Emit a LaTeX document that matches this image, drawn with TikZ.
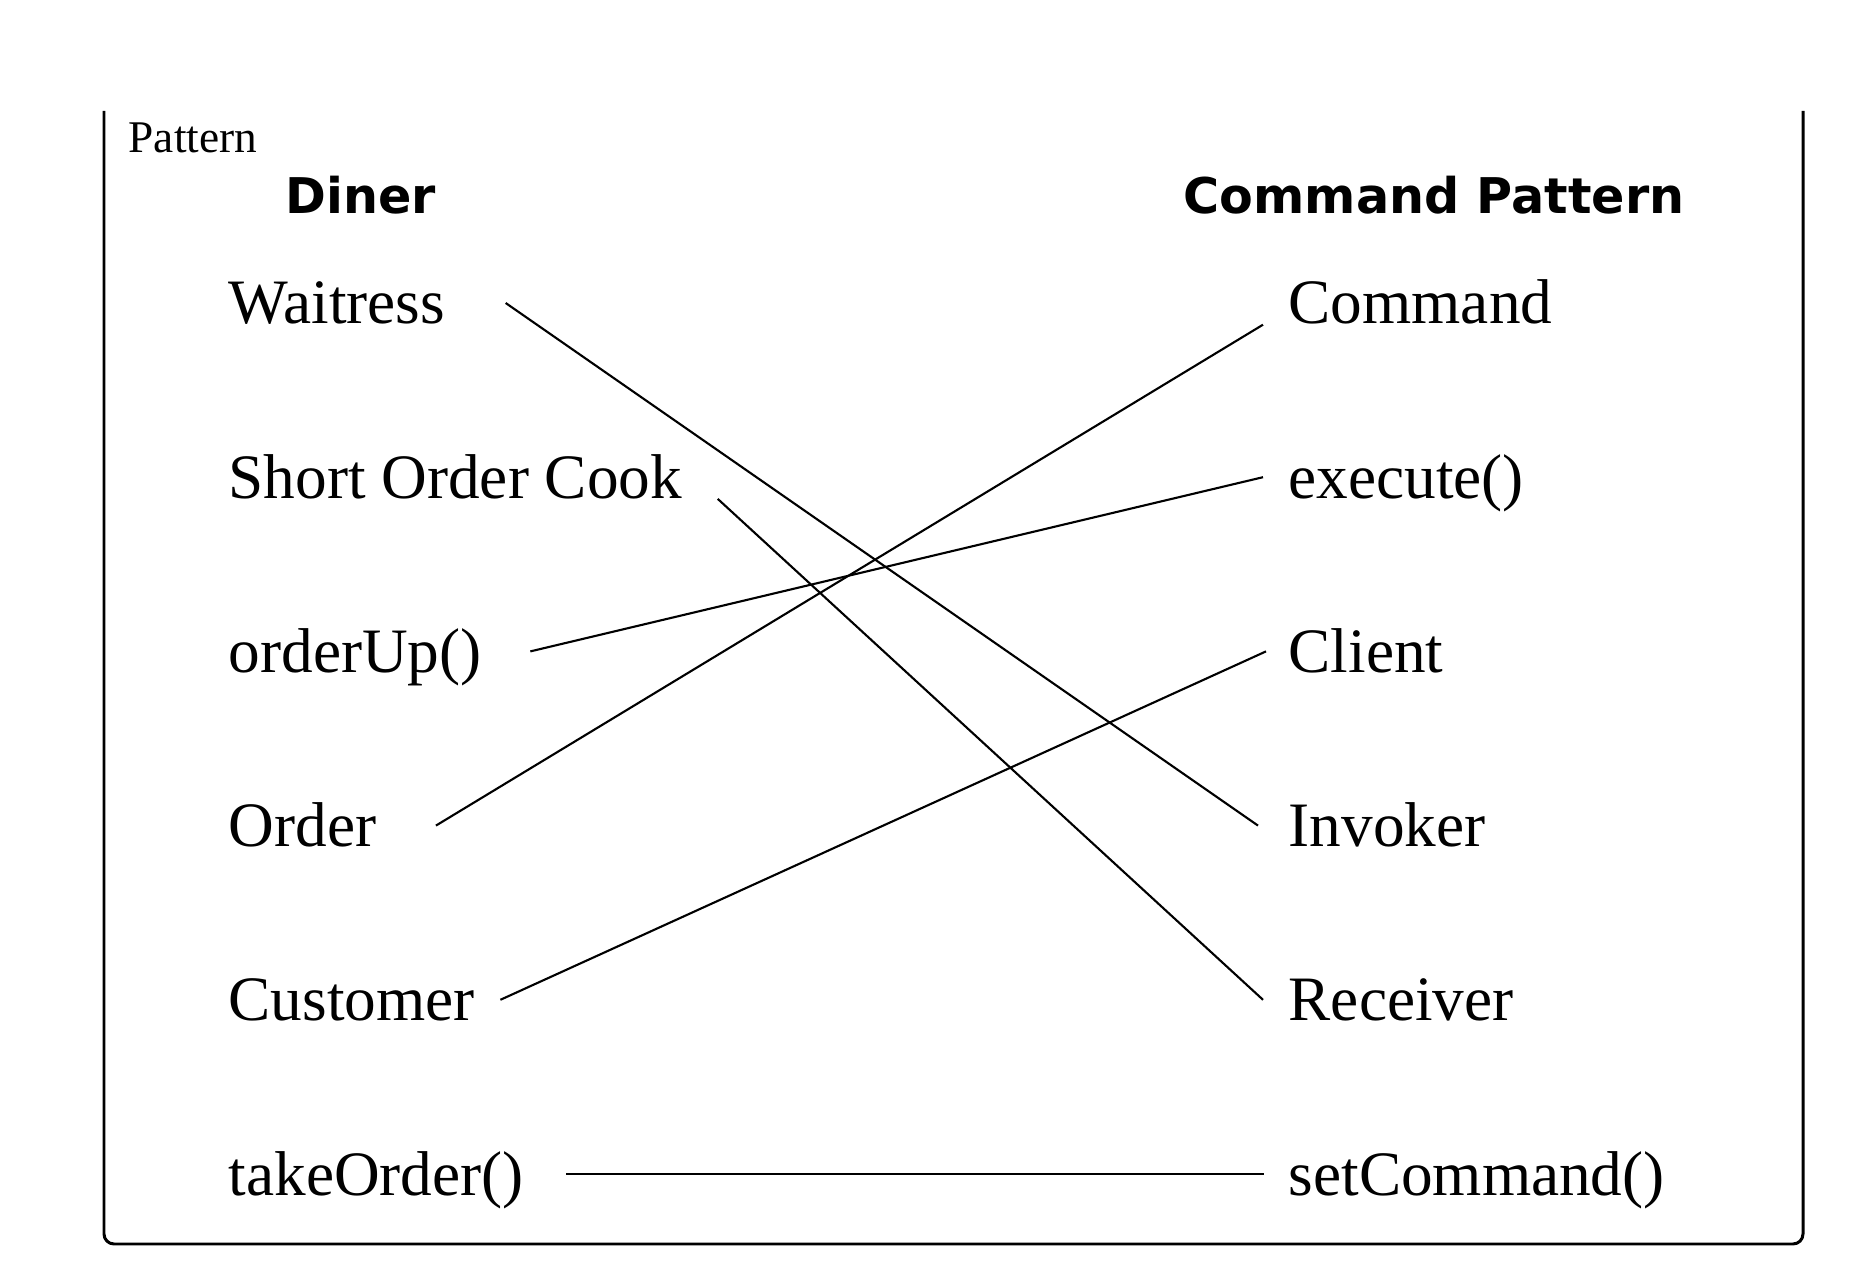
\documentclass[tikz,border=0pt]{standalone}
\usepackage{fontspec}
\setmainfont{Liberation Serif}
\newfontfamily\headfont{DejaVu Sans}
\usetikzlibrary{positioning}

\begin{document}
\begin{tikzpicture}[
    item/.style={font=\fontsize{18}{20}\selectfont, inner sep=0pt, text height=0.42cm, text depth=0pt, anchor=base west},
    head/.style={font=\headfont\bfseries\fontsize{14}{16}\selectfont, anchor=base},
    link/.style={line width=0.6pt}
]
\useasboundingbox (0,0) rectangle (18.7,12.64);

% Frame, open at the top
\draw[line width=0.85pt, rounded corners=0.1cm] (1.04,11.53) -- (1.04,0.2) -- (18.03,0.2) -- (18.03,11.53);

\node[anchor=base west, inner sep=0pt, font=\fontsize{12.9}{15}\selectfont] (title) at (1.28,11.11) {Pattern};

% Column headings
\node[head] (diner) at (3.61,10.5) {Diner};
\node[head] (pattern) at (14.34,10.5) {Command Pattern};

% Diner side
\foreach \name/\txt [count=\i from 0] in {wait/Waitress, cook/Short Order Cook, up/orderUp(), order/Order, cust/Customer, take/takeOrder()} {
    \node[item] (\name) at (2.28,{9.4-1.742*\i}) {\txt};
}

% Command Pattern side
\foreach \name/\txt [count=\i from 0] in {cmd/Command, exec/execute(), client/Client, inv/Invoker, recv/Receiver, setc/setCommand()} {
    \node[item] (\name) at (12.88,{9.4-1.742*\i}) {\txt};
}

% Matching lines
\draw[link] ([xshift=6mm]wait.east) -- ([xshift=-3mm]inv.west);
\draw[link] ([xshift=3.5mm]cook.south east) -- ([xshift=-2.5mm]recv.west);
\draw[link] ([xshift=4.8mm]up.east) -- ([xshift=-2.5mm]exec.west);
\draw[link] ([xshift=5.9mm]order.east) -- ([xshift=-2.5mm]cmd.south west);
\draw[link] ([xshift=2.5mm]cust.east) -- ([xshift=-2.2mm]client.west);
\draw[link] ([xshift=4.2mm]take.east) -- ([xshift=-2.4mm]setc.west);

\end{tikzpicture}
\end{document}
